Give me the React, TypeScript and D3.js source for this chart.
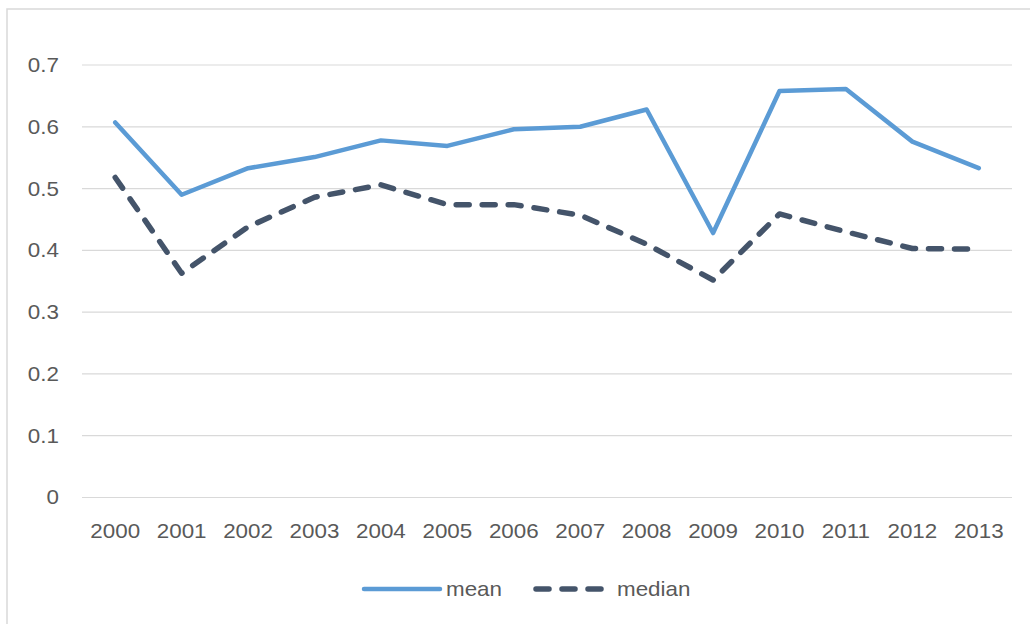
import React from "react";
import * as d3 from "d3";

const years = ["2000","2001","2002","2003","2004","2005","2006","2007","2008","2009","2010","2011","2012","2013"];
const meanValues = [0.607,0.49,0.533,0.551,0.578,0.569,0.596,0.600,0.628,0.428,0.658,0.661,0.576,0.533];
const medianValues = [0.518,0.363,0.438,0.486,0.506,0.474,0.474,0.457,0.41,0.352,0.459,0.43,0.403,0.402];
const yTicks = [0,0.1,0.2,0.3,0.4,0.5,0.6,0.7];

const W = 1030, H = 624;
const left = 82, right = 1012, top = 65, bottom = 497.5;
const FONT = "'Liberation Sans', Arial, sans-serif";
const TEXT = "#595959";

export default function App() {
  const x = d3.scaleBand<string>().domain(years).range([left, right]);
  const y = d3.scaleLinear().domain([0, 0.7]).range([bottom, top]);
  const cx = (d: string) => (x(d) as number) + x.bandwidth() / 2;
  const line = d3.line<number>().x((_, i) => cx(years[i])).y((v) => y(v));

  return (
    <svg width={W} height={H} style={{ position: "absolute", left: 0, top: 0, background: "#fff" }} fontFamily={FONT}>
      <rect x={0} y={0} width={W} height={H} fill="#fff" />
      <rect x={7} y={9} width={W + 20} height={H + 20} fill="none" stroke="#d9d9d9" strokeWidth={1.5} />
      {yTicks.map((t) => (
        <g key={t}>
          <line x1={left} x2={right} y1={y(t)} y2={y(t)} stroke="#d9d9d9" strokeWidth={1.2} />
          <text x={59} y={y(t)} dy="0.35em" textAnchor="end" fontSize={20} fill={TEXT}
            transform={`translate(59,0) scale(1.12,1) translate(-59,0)`}>{String(t)}</text>
        </g>
      ))}
      {years.map((yr) => (
        <text key={yr} x={cx(yr)} y={531} dy="0.35em" textAnchor="middle" fontSize={20} fill={TEXT}
          transform={`translate(${cx(yr)},0) scale(1.12,1) translate(${-cx(yr)},0)`}>{yr}</text>
      ))}
      <path d={line(meanValues) as string} fill="none" stroke="#5B9BD5" strokeWidth={4.5} strokeLinejoin="round" strokeLinecap="round" />
      <path d={line(medianValues) as string} fill="none" stroke="#44546A" strokeWidth={5.5} strokeDasharray="13,13" strokeLinejoin="round" strokeLinecap="round" />
      <line x1={364} x2={440} y1={589} y2={589} stroke="#5B9BD5" strokeWidth={4.5} strokeLinecap="round" />
      <text x={446} y={589} dy="0.35em" fontSize={20} fill={TEXT} transform="translate(446,0) scale(1.12,1) translate(-446,0)">mean</text>
      <line x1={536} x2={606} y1={589} y2={589} stroke="#44546A" strokeWidth={5.5} strokeDasharray="13,13" strokeLinecap="round" />
      <text x={617} y={589} dy="0.35em" fontSize={20} fill={TEXT} transform="translate(617,0) scale(1.12,1) translate(-617,0)">median</text>
    </svg>
  );
}
